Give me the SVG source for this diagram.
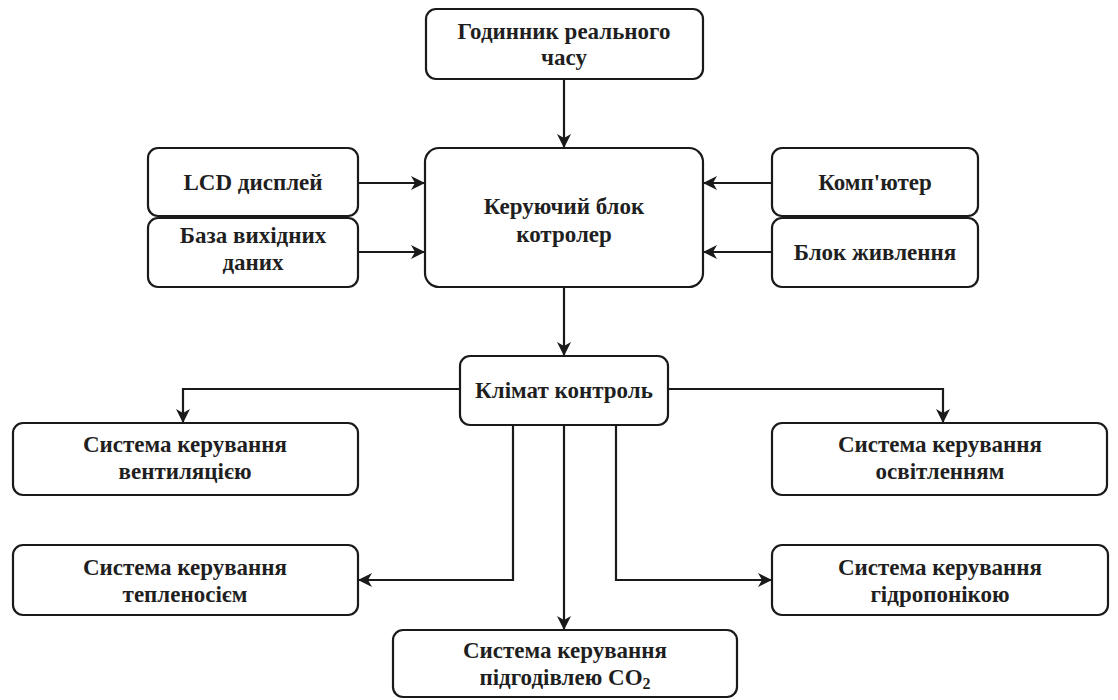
<svg xmlns="http://www.w3.org/2000/svg" width="1118" height="700" viewBox="0 0 1118 700" font-family="Liberation Serif, Times New Roman, serif">
<style>
.box{fill:#fff;stroke:#1a1a1a;stroke-width:2.2}
.t{font-weight:700;font-size:23px;fill:#1f1f1f;text-anchor:middle}
.c{fill:none;stroke:#1a1a1a;stroke-width:2.2}
</style>
<defs>
<marker id="ah" viewBox="0 0 14 14" refX="13" refY="7" markerWidth="14" markerHeight="14" markerUnits="userSpaceOnUse" orient="auto">
<path d="M0,0 L14,7 L0,14 L4,7 Z" fill="#1a1a1a"/>
</marker>
</defs>
<rect width="1118" height="700" fill="#fff"/>
<g id="connectors">
<path class="c" d="M564,79 V147" marker-end="url(#ah)"/>
<path class="c" d="M358,183 H424" marker-end="url(#ah)"/>
<path class="c" d="M358,252 H424" marker-end="url(#ah)"/>
<path class="c" d="M772,183 H704" marker-end="url(#ah)"/>
<path class="c" d="M772,252 H704" marker-end="url(#ah)"/>
<path class="c" d="M564,287 V355" marker-end="url(#ah)"/>
<path class="c" d="M460,389 H183 V422" marker-end="url(#ah)"/>
<path class="c" d="M668,389 H943 V422" marker-end="url(#ah)"/>
<path class="c" d="M513,425 V580 H359" marker-end="url(#ah)"/>
<path class="c" d="M616,425 V580 H771" marker-end="url(#ah)"/>
<path class="c" d="M564,425 V629" marker-end="url(#ah)"/>
</g>
<g id="clock"><rect class="box" x="426" y="9" width="277" height="70" rx="10"/>
<text class="t" x="564" y="39">Годинник реального</text><text class="t" x="564" y="65">часу</text></g>
<g id="controller"><rect class="box" x="425" y="148" width="278" height="139" rx="14"/>
<text class="t" x="564" y="214">Керуючий блок</text><text class="t" x="564" y="242">котролер</text></g>
<g id="lcd"><rect class="box" x="148" y="148" width="210" height="68" rx="10"/>
<text class="t" x="253" y="190">LCD дисплей</text></g>
<g id="database"><rect class="box" x="148" y="218" width="210" height="69" rx="10"/>
<text class="t" x="253" y="243">База вихідних</text><text class="t" x="253" y="270">даних</text></g>
<g id="computer"><rect class="box" x="772" y="148" width="206" height="68" rx="10"/>
<text class="t" x="875" y="190">Комп'ютер</text></g>
<g id="power"><rect class="box" x="772" y="218" width="206" height="69" rx="10"/>
<text class="t" x="875" y="260">Блок живлення</text></g>
<g id="climate"><rect class="box" x="460" y="356" width="208" height="69" rx="10"/>
<text class="t" x="564" y="398">Клімат контроль</text></g>
<g id="ventilation"><rect class="box" x="13" y="423" width="345" height="72" rx="10"/>
<text class="t" x="185" y="452">Система керування</text><text class="t" x="185" y="479">вентиляцією</text></g>
<g id="lighting"><rect class="box" x="772" y="423" width="335" height="72" rx="10"/>
<text class="t" x="940" y="452">Система керування</text><text class="t" x="940" y="479">освітленням</text></g>
<g id="heating"><rect class="box" x="13" y="545" width="345" height="70" rx="10"/>
<text class="t" x="185" y="575">Система керування</text><text class="t" x="185" y="602">тепленосієм</text></g>
<g id="hydroponics"><rect class="box" x="772" y="545" width="336" height="70" rx="10"/>
<text class="t" x="940" y="575">Система керування</text><text class="t" x="940" y="602">гідропонікою</text></g>
<g id="co2"><rect class="box" x="393" y="630" width="344" height="67" rx="10"/>
<text class="t" x="565" y="658">Система керування</text><text class="t" x="565" y="685">підгодівлею CO<tspan font-size="16" dy="4">2</tspan></text></g>
</svg>
